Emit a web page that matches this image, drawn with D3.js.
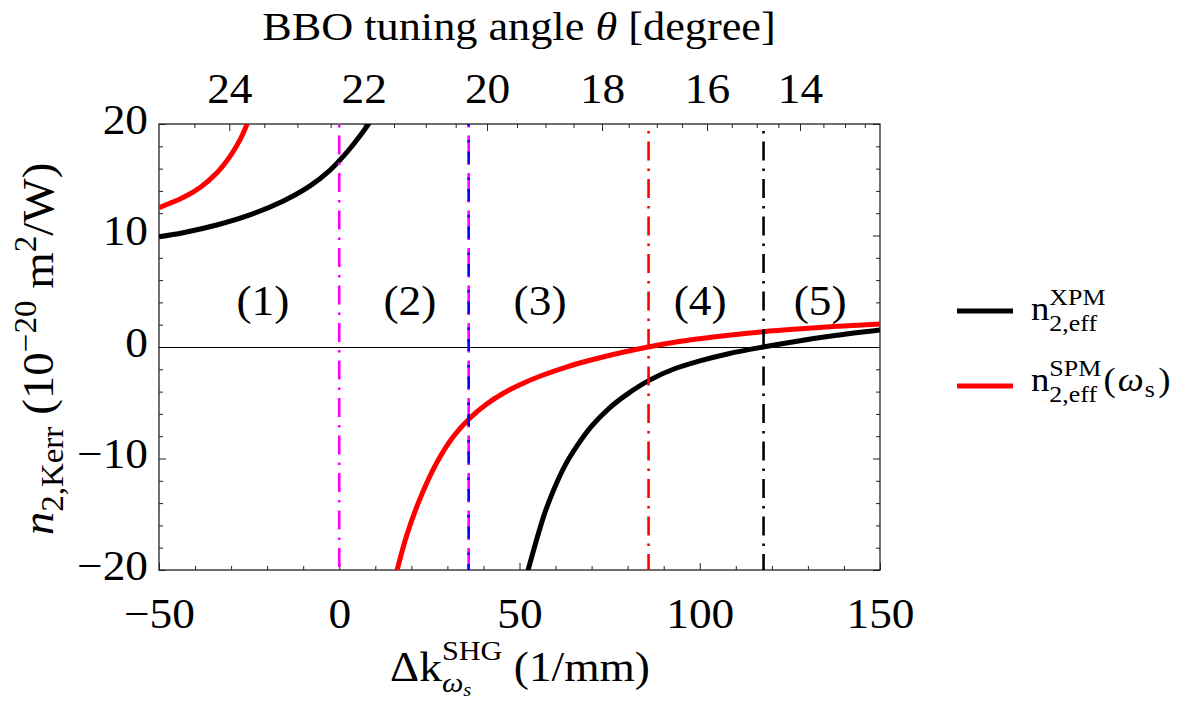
<!DOCTYPE html>
<html>
<head>
<meta charset="utf-8">
<script src="https://cdn.jsdelivr.net/npm/d3@7"></script>
<style>
  html, body { margin: 0; padding: 0; background: #fff; }
  svg { display: block; }
  text { font-family: "Liberation Serif", "Times New Roman", serif; fill: #000; }
</style>
</head>
<body>
<svg id="chart" width="1187" height="702"></svg>
<script>
// ---- data ----
// phase mismatch axis (1/mm) and Kerr index axis (1e-20 m^2/W)
const dkMajorTicks = [-50, 0, 50, 100, 150];
const nMajorTicks = [-20, -10, 0, 10, 20];

// BBO tuning angle ticks (degree) and the phase mismatch each one sits at
const thetaTickAngles = [24.5, 24, 23.5, 23, 22.5, 22, 21.5, 21, 20.5, 20, 19.5, 19, 18.5, 18,
                         17.5, 17, 16.5, 16, 15.5, 15, 14.5, 14, 13.5, 13, 12.5];
const thetaTickDk = [-40.2, -30.5, -20.8, -11.6, -2.4, 6.8, 15.2, 24.0, 32.3, 41.0, 49.3, 57.2, 65.0, 72.9,
                     80.3, 88.1, 95.1, 102.0, 108.9, 115.8, 121.8, 127.8, 134.3, 140.3, 145.8];
const thetaLabels = [24, 22, 20, 18, 16, 14];

// n2 XPM (effective), two branches either side of the resonance
const xpmLeftDk = [-50, -43.3, -34, -24.8, -15.5, -8.1, -2.6, 0, 3, 6.7, 8.1, 9.6];
const xpmLeftN  = [9.89, 10.25, 10.94, 11.85, 13.1, 14.45, 15.85, 16.7, 17.8, 19.35, 19.99, 20.78];
const xpmRightDk = [51.5, 52.4, 55, 57, 59.5, 62.5, 66, 70, 75, 80, 86.2, 93, 100, 108, 117.6, 127, 137, 150];
const xpmRightN  = [-21.1, -20, -17.0, -14.9, -12.8, -10.7, -8.85, -7.1, -5.45, -4.2, -2.95, -1.95, -1.25, -0.6, 0, 0.52, 1.0, 1.52];

// n2 SPM (effective) at omega_s
const spmLeftDk = [-50, -43.3, -38.6, -34, -30.3, -27.5, -25.7, -24.8];
const spmLeftN  = [12.5, 13.4, 14.3, 15.6, 17.1, 18.6, 19.9, 20.7];
const spmRightDk = [15.3, 16.05, 18.7, 22.4, 27, 31.6, 36, 40.9, 45.5, 50.1, 56, 63, 67.5, 72.3, 79, 85.7, 93, 100, 108, 117.6, 127, 137, 150];
const spmRightN  = [-21, -20, -16.9, -13.6, -10.4, -8.05, -6.45, -5.12, -4.15, -3.38, -2.58, -1.8, -1.37, -0.96, -0.45, 0, 0.42, 0.74, 1.06, 1.37, 1.61, 1.83, 2.06];

// region boundaries (phase mismatch, 1/mm)
const boundaryNames = ["b0", "b1a", "b1b", "b2", "b3"];
const boundaryDk = [0, 35.9, 35.9, 85.8, 117.7];

// region labels
const regionLabels = ["(1)", "(2)", "(3)", "(4)", "(5)"];
const regionDk = [-21.2, 19.6, 55.7, 100.1, 133.4];
const regionN = [4, 4, 4, 4, 4];

// ---- layout / style ----
const plot = { left: 159, right: 880, top: 124, bottom: 570 };
const SX = 1.08;            // horizontal glyph stretch
const FS = 42;              // main font size
const boundaryStyle = {
  b0:  { color: "#ff00ff", dash: "19,8,2.5,8", offset: 26 },
  b1a: { color: "#ff00ff", dash: "19,8,2.5,8", offset: 26 },
  b1b: { color: "#0000ff", dash: "12,14,2.5,9", offset: 10 },
  b2:  { color: "#ff0000", dash: "19,8,2.5,8", offset: 20 },
  b3:  { color: "#000000", dash: "19,8,2.5,8", offset: 20 }
};

const svg = d3.select("#chart");
const x = d3.scaleLinear().domain([-50, 150]).range([plot.left, plot.right]);
const y = d3.scaleLinear().domain([-20, 20]).range([plot.bottom, plot.top]);

svg.append("defs").append("clipPath").attr("id", "plotClip")
  .append("rect").attr("x", plot.left).attr("y", plot.top)
  .attr("width", plot.right - plot.left).attr("height", plot.bottom - plot.top);

// text built from pieces (sub/superscripts, stacked scripts)
function richText(parent, pieces, ax, ay, anchor, rotate, sx) {
  const grp = parent.append("g");
  const inner = grp.append("g");
  let cursor = 0, mark = 0, maxEnd = 0;
  pieces.forEach(p => {
    const start = (p.back ? mark : (p.after ? maxEnd : cursor)) + (p.dx || 0);
    if (p.mark) mark = start;
    const t = inner.append("text")
      .attr("x", start).attr("y", p.dy || 0)
      .style("font-size", p.size + "px")
      .style("font-style", p.italic ? "italic" : "normal")
      .text(p.t);
    const w = t.node().getComputedTextLength();
    cursor = start + w;
    maxEnd = Math.max(maxEnd, cursor);
  });
  const off = anchor === "middle" ? -maxEnd / 2 : (anchor === "end" ? -maxEnd : 0);
  inner.attr("transform", `translate(${off},0)`);
  const s = sx == null ? SX : sx;
  grp.attr("transform", `translate(${ax},${ay}) scale(${s},1)` + (rotate ? " rotate(-90)" : ""));
  return grp;
}

// ---- axes ----
const tickMinor = 4, tickMajor = 7;
function styleAxis(g) {
  g.select(".domain").remove();
  g.selectAll("line").attr("stroke", "#222").attr("stroke-width", 1);
  g.selectAll("text").style("font-size", FS + "px").attr("fill", "#000");
}

// bottom
svg.append("g").attr("transform", `translate(0,${plot.bottom})`)
  .call(d3.axisBottom(x).tickValues(d3.range(-40, 150, 10).filter(v => v % 50 !== 0)).tickSize(-tickMinor).tickFormat(""))
  .call(styleAxis);
const bottomAxis = svg.append("g").attr("transform", `translate(0,${plot.bottom})`)
  .call(d3.axisBottom(x).tickValues(dkMajorTicks).tickSize(-tickMajor).tickFormat(d3.format("d")))
  .call(styleAxis);
bottomAxis.selectAll("text").attr("y", 58).attr("dy", null).attr("transform", `scale(${SX},1)`);

// left and right
[[d3.axisLeft, plot.left], [d3.axisRight, plot.right]].forEach(([ax, pos], k) => {
  svg.append("g").attr("transform", `translate(${pos},0)`)
    .call(ax(y).tickValues(d3.range(-18, 20, 2).filter(v => v % 10 !== 0)).tickSize(-tickMinor).tickFormat(""))
    .call(styleAxis);
  const g = svg.append("g").attr("transform", `translate(${pos},0)`)
    .call(ax(y).tickValues(nMajorTicks).tickSize(-tickMajor).tickFormat(k === 0 ? d3.format("d") : ""))
    .call(styleAxis);
  if (k === 0) {
    g.selectAll("text").attr("x", -11 / SX).attr("dy", "0.22em").attr("transform", `scale(${SX},1)`);
  }
});

// top: tuning angle
const topAxis = svg.append("g").attr("transform", `translate(0,${plot.top})`)
  .call(d3.axisTop(x).tickValues(thetaTickDk)
    .tickSize(-tickMinor)
    .tickFormat((d, i) => thetaLabels.includes(thetaTickAngles[i]) ? String(thetaTickAngles[i]) : ""))
  .call(styleAxis);
topAxis.selectAll(".tick").filter((d, i) => thetaLabels.includes(thetaTickAngles[i]))
  .select("line").attr("y2", tickMajor);
topAxis.selectAll("text").attr("y", -21).attr("dy", null).attr("transform", `scale(${SX},1)`);

// frame
svg.append("rect").attr("x", plot.left).attr("y", plot.top)
  .attr("width", plot.right - plot.left).attr("height", plot.bottom - plot.top)
  .attr("fill", "none").attr("stroke", "#222").attr("stroke-width", 1.3);

// ---- plot contents ----
const content = svg.append("g").attr("clip-path", "url(#plotClip)");

content.append("line")
  .attr("x1", plot.left).attr("x2", plot.right)
  .attr("y1", y(0)).attr("y2", y(0))
  .attr("stroke", "#000").attr("stroke-width", 1)
  .attr("shape-rendering", "crispEdges");

const line = d3.line().x(d => x(d[0])).y(d => y(d[1])).curve(d3.curveCatmullRom.alpha(0.5));
const curves = [
  { dk: xpmLeftDk, n: xpmLeftN, color: "#000000" },
  { dk: xpmRightDk, n: xpmRightN, color: "#000000" },
  { dk: spmLeftDk, n: spmLeftN, color: "#ff0000" },
  { dk: spmRightDk, n: spmRightN, color: "#ff0000" }
];
curves.forEach(c => {
  content.append("path")
    .datum(c.dk.map((d, i) => [d, c.n[i]]))
    .attr("d", line)
    .attr("fill", "none")
    .attr("stroke", c.color)
    .attr("stroke-width", 5)
    .attr("stroke-linecap", "butt");
});

boundaryNames.forEach((name, i) => {
  const s = boundaryStyle[name];
  content.append("line")
    .attr("x1", x(boundaryDk[i])).attr("x2", x(boundaryDk[i]))
    .attr("y1", plot.top).attr("y2", plot.bottom)
    .attr("stroke", s.color).attr("stroke-width", 2.6)
    .attr("stroke-dasharray", s.dash).attr("stroke-dashoffset", s.offset);
});

regionLabels.forEach((lab, i) => {
  svg.append("text")
    .attr("transform", `translate(${x(regionDk[i])},${y(regionN[i])}) scale(${SX},1)`)
    .attr("text-anchor", "middle").attr("dy", "0.3em")
    .style("font-size", FS + "px")
    .text(lab);
});

// ---- titles ----
richText(svg, [
  { t: "BBO tuning angle\u00a0", size: 41 },
  { t: "θ", size: 41, italic: true },
  { t: "\u00a0[degree]", size: 41 }
], 519, 40, "middle", false);

richText(svg, [
  { t: "Δk", size: FS },
  { t: "SHG", size: 28, dy: -21, mark: true },
  { t: "ω", size: 28, dy: 11, italic: true, back: true },
  { t: "s", size: 19, dy: 15, italic: true },
  { t: "\u00a0(1/mm)", size: FS, after: true }
], 520, 681, "middle", false);

richText(svg, [
  { t: "n", size: 47, italic: true },
  { t: "2,Kerr", size: 33, dy: 10 },
  { t: "\u00a0(10", size: 47 },
  { t: "−20", size: 33, dy: -18 },
  { t: "\u00a0m", size: 47 },
  { t: "2", size: 33, dy: -18 },
  { t: "/W)", size: 47 }
], 53, 349, "middle", true, 0.95);

// ---- legend ----
const legend = svg.append("g");
legend.append("line").attr("x1", 957).attr("x2", 1013).attr("y1", 311).attr("y2", 311)
  .attr("stroke", "#000").attr("stroke-width", 5);
legend.append("line").attr("x1", 957).attr("x2", 1013).attr("y1", 386).attr("y2", 386)
  .attr("stroke", "#ff0000").attr("stroke-width", 5);
richText(legend, [
  { t: "n", size: 34 },
  { t: "XPM", size: 24, dy: -15, mark: true },
  { t: "2,eff", size: 24, dy: 11, back: true }
], 1031, 320, "start", false);
richText(legend, [
  { t: "n", size: 34 },
  { t: "SPM", size: 24, dy: -15, mark: true },
  { t: "2,eff", size: 24, dy: 11, back: true },
  { t: "(", size: 34, after: true, dx: 2 },
  { t: "ω", size: 34, italic: true, dx: 2 },
  { t: "s", size: 24, dy: 6, dx: 1 },
  { t: ")", size: 34, dx: 3 }
], 1031, 391, "start", false);
</script>
</body>
</html>
